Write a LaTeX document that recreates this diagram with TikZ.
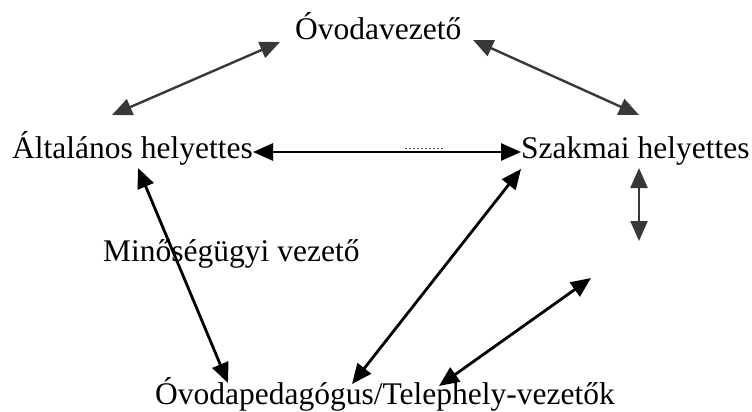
\documentclass[tikz,border=0pt]{standalone}
\usepackage{fontspec}
\setmainfont{Liberation Serif}
\usetikzlibrary{arrows.meta}
\begin{document}
\begin{tikzpicture}[x=1pt,y=-1pt,
  lbl/.style={anchor=base west,inner sep=0pt,font=\fontsize{31.5}{36}\selectfont},
  link/.style={{Triangle[length=20pt,width=17pt]}-{Triangle[length=20pt,width=17pt]},line width=2.8pt,black},
  toplink/.style={link,line width=2.4pt,draw=black!78,fill=black!78}]
\useasboundingbox (0,0) rectangle (752,412);

% roles
\node[lbl] (vez)  at (295,40)  {Óvodavezető};
\node[lbl] (alt)  at (12,158)  {Általános helyettes};
\node[lbl] (szak) at (521,158) {Szakmai helyettes};
\node[lbl] (min)  at (103,261) {Minőségügyi vezető};
\node[lbl] (ped)  at (155,404) {Óvodapedagógus/Telephely-vezetők};

% arrow end points
\coordinate (vezL) at (280,42);
\coordinate (altT) at (112,115);
\coordinate (vezR) at (473,40);
\coordinate (szakT) at (639,115);
\coordinate (altR) at (253,152);
\coordinate (szakL) at (521,152);
\coordinate (altB) at (138,168);
\coordinate (pedL) at (228,383);
\coordinate (szakB) at (521,169);
\coordinate (pedM) at (352,384);
\coordinate (szakD) at (639,168);
\coordinate (minEnd) at (639,241);
\coordinate (freeEnd) at (591,278);
\coordinate (pedR) at (439,386);

% connectors
\draw[toplink] (vezL) -- (altT);
\draw[toplink] (vezR) -- (szakT);
\draw[link] (altR) -- (szakL);
\draw[link] (altB) -- (pedL);
\draw[link] (szakB) -- (pedM);
\draw[toplink] (szakD) -- (minEnd);
\draw[link] (freeEnd) -- (pedR);
\draw[black!70,line width=1pt,dash pattern=on 2pt off 2pt] (405,148) -- (443,148);
\end{tikzpicture}
\end{document}
